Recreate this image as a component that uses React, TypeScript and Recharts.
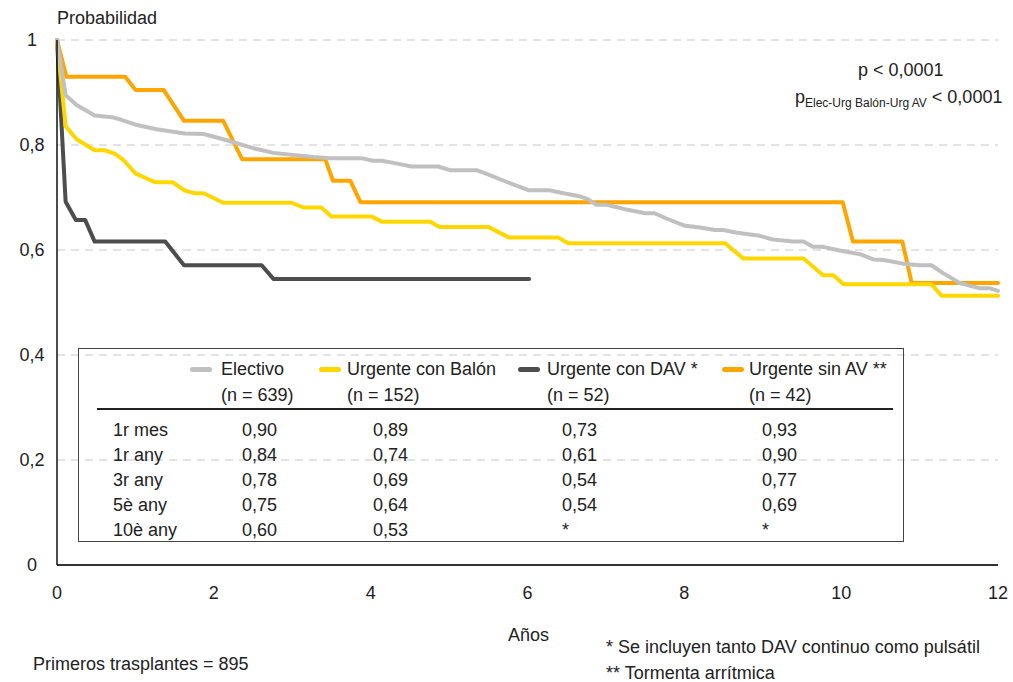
import React from 'react';
import { CartesianGrid, Line, LineChart, XAxis, YAxis } from 'recharts';

// Supervivencia por tipo de trasplante: [años, probabilidad]
const electivo: [number, number][] = [
  [0, 1], [0.11, 0.895], [0.25, 0.876], [0.48, 0.856], [0.7, 0.853], [0.82, 0.848],
  [1.02, 0.838], [1.27, 0.83], [1.63, 0.822], [1.87, 0.821], [2.12, 0.811], [2.5, 0.794],
  [2.76, 0.785], [3.01, 0.781], [3.27, 0.777], [3.48, 0.775], [3.88, 0.775], [4.03, 0.77],
  [4.14, 0.77], [4.29, 0.766], [4.52, 0.759], [4.86, 0.759], [5.01, 0.752], [5.35, 0.752],
  [5.48, 0.745], [5.73, 0.73], [6.01, 0.714], [6.27, 0.714], [6.46, 0.708], [6.65, 0.703],
  [6.77, 0.697], [6.88, 0.686], [7.01, 0.686], [7.13, 0.682], [7.26, 0.677], [7.5, 0.67],
  [7.62, 0.67], [7.77, 0.66], [8.01, 0.646], [8.2, 0.643], [8.39, 0.638], [8.5, 0.638],
  [8.67, 0.633], [8.96, 0.627], [9.13, 0.62], [9.39, 0.616], [9.52, 0.616], [9.64, 0.606],
  [9.77, 0.606], [9.98, 0.599], [10.24, 0.592], [10.41, 0.582], [10.54, 0.581], [10.79, 0.574],
  [11.0, 0.571], [11.15, 0.571], [11.3, 0.556], [11.51, 0.537], [11.77, 0.527], [11.9, 0.527],
  [12.0, 0.522],
];

const urgenteBalon: [number, number][] = [
  [0, 1], [0.11, 0.836], [0.25, 0.811], [0.48, 0.79], [0.61, 0.79], [0.74, 0.783],
  [0.85, 0.771], [1.0, 0.746], [1.25, 0.729], [1.48, 0.729], [1.63, 0.713], [1.76, 0.708],
  [1.87, 0.708], [2.12, 0.69], [2.99, 0.69], [3.14, 0.681], [3.37, 0.681], [3.5, 0.664],
  [4.01, 0.664], [4.14, 0.654], [4.76, 0.654], [4.88, 0.644], [5.5, 0.644], [5.76, 0.624],
  [6.39, 0.624], [6.52, 0.613], [8.52, 0.613], [8.75, 0.584], [9.52, 0.584], [9.77, 0.552],
  [9.9, 0.552], [10.03, 0.535], [11.15, 0.535], [11.28, 0.513], [12.0, 0.513],
];

const urgenteDav: [number, number][] = [
  [0, 1], [0.11, 0.692], [0.24, 0.657], [0.36, 0.657], [0.48, 0.616], [1.38, 0.616],
  [1.62, 0.571], [2.61, 0.571], [2.76, 0.545], [6.02, 0.545],
];

const urgenteSinAv: [number, number][] = [
  [0, 1], [0.12, 0.93], [0.87, 0.93], [1.0, 0.905], [1.36, 0.905], [1.62, 0.846],
  [2.12, 0.846], [2.36, 0.773], [3.42, 0.773], [3.52, 0.732], [3.74, 0.732], [3.87, 0.691],
  [10.02, 0.691], [10.15, 0.616], [10.78, 0.616], [10.9, 0.537], [12.0, 0.537],
];

const xTicks = [0, 2, 4, 6, 8, 10, 12];
const yTicks = [0, 0.2, 0.4, 0.6, 0.8, 1];

// tabla de supervivencia
const rowLabels = ['1r mes', '1r any', '3r any', '5è any', '10è any'];
const groupNames = ['Electivo', 'Urgente con Balón', 'Urgente con DAV *', 'Urgente sin AV **'];
const groupN = [639, 152, 52, 42];
const tableElectivo = ['0,90', '0,84', '0,78', '0,75', '0,60'];
const tableBalon = ['0,89', '0,74', '0,69', '0,64', '0,53'];
const tableDav = ['0,73', '0,61', '0,54', '0,54', '*'];
const tableSinAv = ['0,93', '0,90', '0,77', '0,69', '*'];

const COLORS = ['#c0c0c0', '#ffd700', '#4d4d4d', '#ffa500'];
const FONT = '"Liberation Sans", Arial, sans-serif';

const toPoints = (rows: [number, number][]) => rows.map(([t, s]) => ({ t, s }));

const fmt = (v: number) => String(Number(v.toFixed(1))).replace('.', ',');

function XTick({ x, y, payload }: any) {
  return (
    <text x={x} y={y + 20} textAnchor="middle" dominantBaseline="central" fontSize={18} fill="#222" fontFamily={FONT}>
      {payload.value}
    </text>
  );
}

function YTick({ y, payload }: any) {
  return (
    <text x={32} y={y} textAnchor="middle" dominantBaseline="central" fontSize={18} fill="#222" fontFamily={FONT}>
      {fmt(payload.value)}
    </text>
  );
}

const txt = (left: number, top: number, extra: React.CSSProperties = {}): React.CSSProperties => ({
  position: 'absolute',
  left,
  top: top - 11,
  lineHeight: '22px',
  fontSize: 18,
  color: '#222',
  whiteSpace: 'nowrap',
  ...extra,
});

const swatch = (left: number, top: number, color: string): React.CSSProperties => ({
  position: 'absolute',
  left,
  top: top - 2.5,
  width: 22,
  height: 5,
  borderRadius: 3,
  background: color,
});

function SurvivalTable() {
  const headX = [221, 347, 547, 749];
  const swX = [190, 319, 518, 722];
  const valX = [242, 373, 562, 762];
  const cols = [tableElectivo, tableBalon, tableDav, tableSinAv];
  const rowY = [430, 455, 480, 505, 530];
  return (
    <>
      <div style={{ position: 'absolute', left: 78, top: 348, width: 826, height: 194, border: '1.5px solid #444', boxSizing: 'border-box' }} />
      {groupNames.map((g, i) => (
        <React.Fragment key={g}>
          <div style={swatch(swX[i], 369, COLORS[i])} />
          <div style={txt(headX[i], 369)}>{g}</div>
          <div style={txt(headX[i], 395)}>(n = {groupN[i]})</div>
        </React.Fragment>
      ))}
      <div style={{ position: 'absolute', left: 97, top: 408, width: 796, height: 2, background: '#222' }} />
      {rowLabels.map((r, j) => (
        <React.Fragment key={r}>
          <div style={txt(113, rowY[j])}>{r}</div>
          {cols.map((c, i) => (
            <div key={i} style={txt(valX[i], rowY[j])}>{c[j]}</div>
          ))}
        </React.Fragment>
      ))}
    </>
  );
}

export default function App() {
  return (
    <div style={{ position: 'absolute', left: 0, top: 0, width: 1013, height: 682, background: '#fff', fontFamily: FONT }}>
      <LineChart width={1013} height={682} margin={{ top: 40, right: 15, bottom: 87, left: 0 }}>
        <CartesianGrid vertical={false} stroke="#c8c8c8" strokeDasharray="8 6" strokeWidth={1} />
        <XAxis
          dataKey="t"
          type="number"
          domain={[0, 12]}
          ticks={xTicks}
          height={30}
          tickLine={false}
          axisLine={{ stroke: '#333', strokeWidth: 2 }}
          tick={<XTick />}
          allowDuplicatedCategory={false}
        />
        <YAxis
          type="number"
          domain={[0, 1]}
          ticks={yTicks}
          width={57}
          tickLine={false}
          axisLine={{ stroke: '#111', strokeWidth: 1.5 }}
          tick={<YTick />}
        />
        <Line data={toPoints(urgenteSinAv)} dataKey="s" type="linear" stroke={COLORS[3]} strokeWidth={4} strokeLinecap="round" strokeLinejoin="round" dot={false} activeDot={false} isAnimationActive={false} />
        <Line data={toPoints(urgenteDav)} dataKey="s" type="linear" stroke={COLORS[2]} strokeWidth={4} strokeLinecap="round" strokeLinejoin="round" dot={false} activeDot={false} isAnimationActive={false} />
        <Line data={toPoints(urgenteBalon)} dataKey="s" type="linear" stroke={COLORS[1]} strokeWidth={4} strokeLinecap="round" strokeLinejoin="round" dot={false} activeDot={false} isAnimationActive={false} />
        <Line data={toPoints(electivo)} dataKey="s" type="linear" stroke={COLORS[0]} strokeWidth={4} strokeLinecap="round" strokeLinejoin="round" dot={false} activeDot={false} isAnimationActive={false} />
      </LineChart>

      <div style={txt(57, 18)}>Probabilidad</div>
      <div style={txt(858, 70)}>p &lt; 0,0001</div>
      <div style={txt(795, 97)}>
        p<span style={{ fontSize: 12, position: 'relative', top: 4 }}>Elec-Urg Balón-Urg AV</span> &lt; 0,0001
      </div>

      <SurvivalTable />

      <div style={txt(508, 635)}>Años</div>
      <div style={txt(606, 647)}>* Se incluyen tanto DAV continuo como pulsátil</div>
      <div style={txt(606, 673)}>** Tormenta arrítmica</div>
      <div style={txt(33, 664)}>Primeros trasplantes = 895</div>
    </div>
  );
}
